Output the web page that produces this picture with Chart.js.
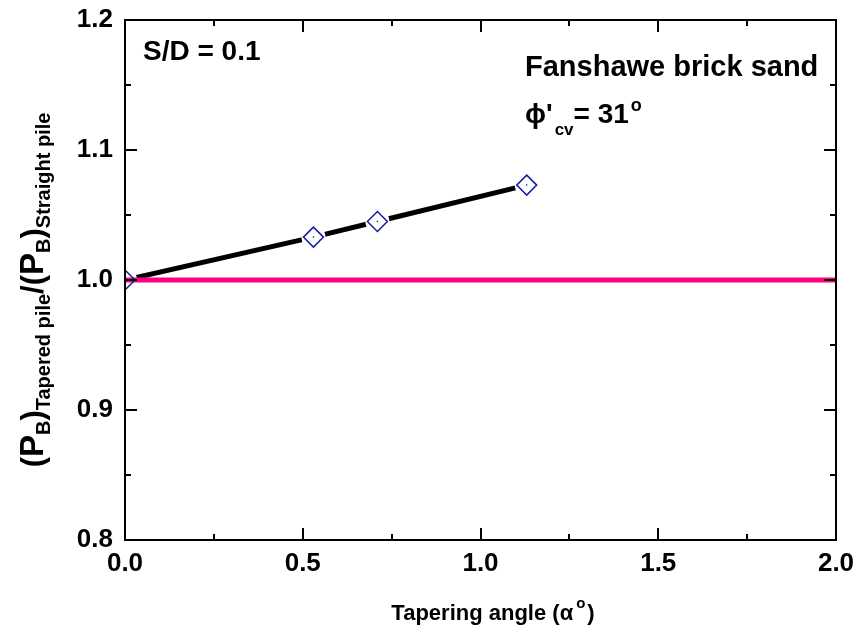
<!DOCTYPE html>
<html>
<head>
<meta charset="utf-8">
<script src="https://cdn.jsdelivr.net/npm/chart.js@4/dist/chart.umd.min.js"></script>
<style>
  html, body { margin: 0; padding: 0; background: #ffffff; }
  #wrap { width: 860px; height: 628px; position: relative; }
</style>
</head>
<body>
<div id="wrap"><canvas id="c" width="860" height="628"></canvas></div>
<script>
// ---- data ----
const taperAngles = [0, 0.53, 0.71, 1.13];          // Tapering angle (α°)
const capacityRatio = [1.0, 1.033, 1.045, 1.073];   // (P_B)tapered / (P_B)straight
const refLineX = [0, 2];                             // straight-pile reference line
const refLineY = [1, 1];
const xTicks = [0, 0.5, 1.0, 1.5, 2.0];
const yTicks = [0.8, 0.9, 1.0, 1.1, 1.2];

const FONT = '"Liberation Sans", Arial, sans-serif';
const pts = (xs, ys) => xs.map((x, i) => ({ x: x, y: ys[i] }));

// frame with inward major/minor ticks on all four sides
const framePlugin = {
  id: 'frame',
  afterDatasetsDraw(chart) {
    const { ctx, chartArea: a, scales: { x, y } } = chart;
    ctx.save();
    ctx.strokeStyle = '#000';
    ctx.lineWidth = 2;
    ctx.lineCap = 'butt';
    ctx.strokeRect(a.left, a.top, a.right - a.left, a.bottom - a.top);
    const major = 12, minor = 6;
    ctx.beginPath();
    xTicks.forEach((v, i) => {
      const px = Math.round(x.getPixelForValue(v));
      ctx.moveTo(px, a.bottom); ctx.lineTo(px, a.bottom - major);
      ctx.moveTo(px, a.top); ctx.lineTo(px, a.top + major);
      if (i < xTicks.length - 1) {
        const mx = Math.round(x.getPixelForValue((v + xTicks[i + 1]) / 2));
        ctx.moveTo(mx, a.bottom); ctx.lineTo(mx, a.bottom - minor);
        ctx.moveTo(mx, a.top); ctx.lineTo(mx, a.top + minor);
      }
    });
    yTicks.forEach((v, i) => {
      const py = Math.round(y.getPixelForValue(v));
      ctx.moveTo(a.left, py); ctx.lineTo(a.left + major, py);
      ctx.moveTo(a.right, py); ctx.lineTo(a.right - major, py);
      if (i < yTicks.length - 1) {
        const my = Math.round(y.getPixelForValue((v + yTicks[i + 1]) / 2));
        ctx.moveTo(a.left, my); ctx.lineTo(a.left + minor, my);
        ctx.moveTo(a.right, my); ctx.lineTo(a.right - minor, my);
      }
    });
    ctx.stroke();
    ctx.restore();
  }
};

// rich text helper: segments of {t, size, dy}
function richWidth(ctx, segs) {
  let w = 0;
  segs.forEach(s => { ctx.font = 'bold ' + s.size + 'px ' + FONT; w += ctx.measureText(s.t).width + (s.gap || 0); });
  return w;
}
function drawRich(ctx, segs, x0, base) {
  let x = x0;
  segs.forEach(s => {
    ctx.font = 'bold ' + s.size + 'px ' + FONT;
    ctx.fillText(s.t, x, base + (s.dy || 0));
    x += ctx.measureText(s.t).width + (s.gap || 0);
  });
}

const textPlugin = {
  id: 'texts',
  afterDraw(chart) {
    const { ctx, chartArea: a } = chart;
    ctx.save();
    ctx.fillStyle = '#000';
    ctx.textBaseline = 'alphabetic';
    ctx.textAlign = 'left';

    // y-axis title (rotated)
    const ySegs = [
      { t: '(', size: 31 }, { t: 'P', size: 33 }, { t: 'B', size: 20, dy: 7 }, { t: ')', size: 31 },
      { t: 'Tapered pile', size: 20, dy: 7 }, { t: '/', size: 31 },
      { t: '(', size: 31 }, { t: 'P', size: 33 }, { t: 'B', size: 20, dy: 7 }, { t: ')', size: 31 },
      { t: 'Straight pile', size: 20, dy: 7 }
    ];
    const yw = richWidth(ctx, ySegs);
    ctx.save();
    ctx.translate(43, 290);
    ctx.rotate(-Math.PI / 2);
    drawRich(ctx, ySegs, -yw / 2, 0);
    ctx.restore();

    // x-axis title
    const xSegs = [
      { t: 'Tapering angle (\u03B1', size: 22, gap: 3 },
      { t: 'o', size: 15, dy: -12, gap: 2 },
      { t: ')', size: 22 }
    ];
    const xw = richWidth(ctx, xSegs);
    drawRich(ctx, xSegs, 493 - xw / 2, 620);

    // annotations
    drawRich(ctx, [{ t: 'S/D = 0.1', size: 28 }], a.left + 18, a.top + 40);
    drawRich(ctx, [{ t: 'Fanshawe brick sand', size: 29 }], a.left + 400, a.top + 56);
    drawRich(ctx, [
      { t: '\u03D5', size: 28 }, { t: '\'', size: 28, gap: 2 },
      { t: 'cv', size: 17, dy: 12 }, { t: '= 31', size: 28, gap: 2 },
      { t: 'o', size: 18, dy: -12 }
    ], a.left + 400, a.top + 103);
    ctx.restore();
  }
};

new Chart(document.getElementById('c'), {
  type: 'scatter',
  data: {
    datasets: [
      { // markers (top)
        label: 'markers', data: pts(taperAngles, capacityRatio), order: 0, clip: 0,
        showLine: false, pointStyle: 'rectRot', pointRadius: 10, pointHoverRadius: 10,
        pointBorderColor: '#1a1a9e', pointBackgroundColor: 'rgba(0,0,0,0)', pointBorderWidth: 1.5
      },
      { // marker centre dots
        label: 'dots', data: pts(taperAngles, capacityRatio), order: 0, clip: 0,
        showLine: false, pointStyle: 'circle', pointRadius: 0.8, pointHoverRadius: 0.8,
        pointBorderWidth: 0, pointBackgroundColor: '#1a1a9e'
      },
      { // reference line
        label: 'straight', data: pts(refLineX, refLineY), order: 1, clip: 0,
        showLine: true, borderColor: '#ff0080', borderWidth: 5, pointRadius: 0, pointHoverRadius: 0
      },
      { // white gaps around markers
        label: 'gaps', data: pts(taperAngles, capacityRatio), order: 2, clip: 0,
        showLine: false, pointStyle: 'circle', pointRadius: 12, pointHoverRadius: 12,
        pointBorderWidth: 0, pointBackgroundColor: '#ffffff'
      },
      { // connecting line
        label: 'tapered', data: pts(taperAngles, capacityRatio), order: 3, clip: 0,
        showLine: true, borderColor: '#000000', borderWidth: 5, pointRadius: 0, pointHoverRadius: 0,
        borderCapStyle: 'round', tension: 0
      }
    ]
  },
  options: {
    responsive: false,
    animation: false,
    events: [],
    layout: { padding: { top: 20, right: 24, left: 0, bottom: 0 } },
    plugins: { legend: { display: false }, tooltip: { enabled: false } },
    scales: {
      x: {
        type: 'linear', min: 0, max: 2,
        grid: { display: false, drawTicks: false },
        border: { display: false },
        afterBuildTicks: s => { s.ticks = xTicks.map(v => ({ value: v })); },
        afterFit: s => { s.height = 88; s.paddingLeft = 0; s.paddingRight = 0; },
        ticks: {
          padding: 8, color: '#000', maxRotation: 0, autoSkip: false,
          font: { family: FONT, size: 26, weight: 'bold' },
          callback: v => Number(v).toFixed(1)
        }
      },
      y: {
        type: 'linear', min: 0.8, max: 1.2,
        grid: { display: false, drawTicks: false },
        border: { display: false },
        afterBuildTicks: s => { s.ticks = yTicks.map(v => ({ value: v })); },
        afterFit: s => { s.width = 125; s.paddingTop = 0; s.paddingBottom = 0; },
        ticks: {
          padding: 12, color: '#000', autoSkip: false,
          font: { family: FONT, size: 26, weight: 'bold' },
          callback: v => Number(v).toFixed(1)
        }
      }
    }
  },
  plugins: [framePlugin, textPlugin]
});
</script>
</body>
</html>
